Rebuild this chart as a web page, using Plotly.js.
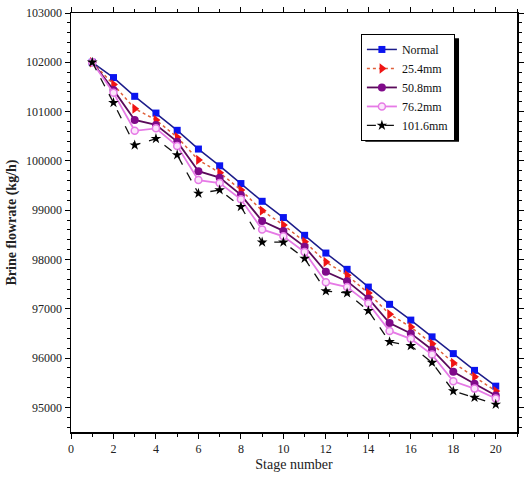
<!DOCTYPE html>
<html>
<head>
<meta charset="utf-8">
<script src="https://cdn.plot.ly/plotly-3.0.1.min.js"></script>
<style>
  html, body { margin: 0; padding: 0; background: #fff; }
  #chart1 { width: 532px; height: 487px; }
</style>
</head>
<body>
<div id="chart1"></div>
<script>
var stages = [1, 2, 3, 4, 5, 6, 7, 8, 9, 10, 11, 12, 13, 14, 15, 16, 17, 18, 19, 20];

var normal = [102000, 101690, 101310, 100970, 100620, 100240, 99900, 99540, 99180, 98850,
    98490, 98130, 97800, 97440, 97090, 96770, 96430, 96090, 95750, 95430];
var mm254 = [102000, 101550, 101060, 100830, 100480, 100020, 99760, 99410, 98990, 98700,
    98360, 97950, 97680, 97320, 96890, 96630, 96290, 95900, 95620, 95330];
var mm508 = [102000, 101440, 100830, 100730, 100390, 99790, 99660, 99310, 98780, 98580,
    98260, 97750, 97560, 97210, 96710, 96500, 96170, 95720, 95480, 95240];
var mm762 = [102000, 101380, 100610, 100660, 100300, 99610, 99550, 99220, 98610, 98470,
    98150, 97540, 97440, 97110, 96550, 96390, 96070, 95530, 95380, 95180];
var mm1016 = [102000, 101180, 100320, 100450, 100120, 99340, 99410, 99070, 98350, 98350,
    98020, 97360, 97320, 96960, 96330, 96250, 95910, 95330, 95200, 95060];

var seriesNames = ["Normal", "25.4mm", "50.8mm", "76.2mm", "101.6mm"];

var chartData = [{
    x: stages, y: normal, name: seriesNames[0], mode: "lines+markers",
    line: {color: "#1c1c8a", width: 1.5},
    marker: {symbol: "square", size: 7, color: "#0a14f0"}
}, {
    x: stages, y: mm254, name: seriesNames[1], mode: "lines+markers",
    line: {color: "#e0603a", width: 1.5, dash: "dot"},
    marker: {symbol: "triangle-right", size: 9, color: "#f01414"}
}, {
    x: stages, y: mm508, name: seriesNames[2], mode: "lines+markers",
    line: {color: "#5a0a5a", width: 1.8},
    marker: {symbol: "circle", size: 8, color: "#800a8a"}
}, {
    x: stages, y: mm762, name: seriesNames[3], mode: "lines+markers",
    line: {color: "#e67ae6", width: 1.8},
    marker: {symbol: "circle", size: 7, color: "#fbe6fb", line: {color: "#e67ae6", width: 1.5}}
}, {
    x: stages, y: mm1016, name: seriesNames[4], mode: "lines+markers",
    line: {color: "#111111", width: 1.3, dash: "dash"},
    marker: {symbol: "star", size: 8, color: "#000000"}
}];

var serif = "'Liberation Serif', 'Times New Roman', serif";
var axisFont = {family: serif, size: 12, color: "#222"};

var chartLayout = {
    width: 532,
    height: 487,
    margin: {l: 71, r: 15, t: 13, b: 55},
    paper_bgcolor: "#ffffff",
    plot_bgcolor: "#ffffff",
    showlegend: true,
    font: axisFont,
    xaxis: {
        range: [0, 21],
        dtick: 2,
        tick0: 0,
        ticks: "outside",
        ticklen: 5,
        tickcolor: "#000",
        showline: true,
        linecolor: "#000",
        linewidth: 1.5,
        mirror: "ticks",
        showgrid: false,
        zeroline: false,
        minor: {dtick: 1, ticks: "outside", ticklen: 3, tickcolor: "#000"},
        tickfont: axisFont,
        title: {text: "Stage number", font: {family: serif, size: 14, color: "#222"}, standoff: 4}
    },
    yaxis: {
        range: [94500, 103000],
        dtick: 1000,
        tick0: 95000,
        tickformat: "d",
        ticks: "outside",
        ticklen: 5,
        tickcolor: "#000",
        showline: true,
        linecolor: "#000",
        linewidth: 1.5,
        mirror: "ticks",
        showgrid: false,
        zeroline: false,
        minor: {dtick: 200, ticks: "outside", ticklen: 3, tickcolor: "#000"},
        tickfont: axisFont,
        title: {text: "<b>Brine flowrate (kg/h)</b>", font: {family: serif, size: 14, color: "#222"}, standoff: 6}
    },
    legend: {
        x: 0.650,
        y: 0.950,
        xanchor: "left",
        yanchor: "top",
        bgcolor: "#ffffff",
        bordercolor: "#000",
        borderwidth: 1,
        font: {family: serif, size: 12, color: "#111"},
        tracegroupgap: 0,
        itemwidth: 30
    },
    // drop shadow behind the legend box
    shapes: [{
        type: "rect", xref: "paper", yref: "paper",
        x0: 0.660, x1: 0.870, y0: 0.693, y1: 0.940,
        fillcolor: "#000", line: {width: 0}, layer: "above"
    }]
};

var chartConfig = {displayModeBar: false, staticPlot: true};

Plotly.newPlot("chart1", chartData, chartLayout, chartConfig);
</script>
</body>
</html>
